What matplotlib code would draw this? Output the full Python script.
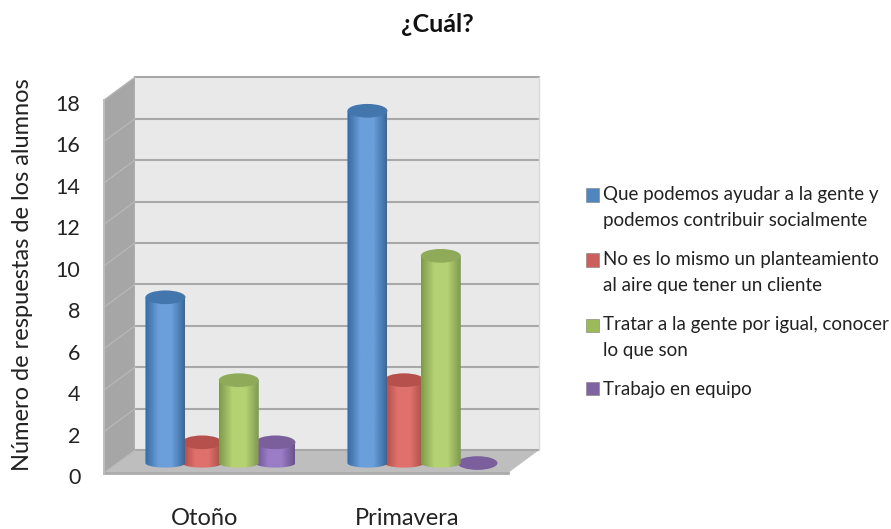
"""3D-look cylinder bar chart of student answers."""
import matplotlib

matplotlib.use("Agg")
import matplotlib.pyplot as plt
from matplotlib.colors import LinearSegmentedColormap
from matplotlib.legend_handler import HandlerPatch
from matplotlib.patches import Ellipse, Polygon, Rectangle
from matplotlib.transforms import ScaledTranslation
import numpy as np

plt.rcParams["font.family"] = ["Lato", "DejaVu Sans"]

categories = ["Otoño", "Primavera"]
series_names = [
    "Que podemos ayudar a la gente y\npodemos contribuir socialmente",
    "No es lo mismo un planteamiento\nal aire que tener un cliente",
    "Tratar a la gente por igual, conocer\nlo que son",
    "Trabajo en equipo",
]
series_values = [[8, 17], [1, 4], [4, 10], [1, 0]]
y_ticks = [0, 2, 4, 6, 8, 10, 12, 14, 16, 18]

# dark edge, light centre, cap colour, legend swatch
body_dark = ["#39689E", "#A84C48", "#7F9A4C", "#6A5190"]
body_light = ["#6A9FDB", "#E0706B", "#B5D273", "#9A7DC6"]
cap_colors = ["#4476AE", "#B5504D", "#8FAB5A", "#7A5F9C"]
swatch_colors = ["#4F86C0", "#CC5F5B", "#9BBB59", "#8064A2"]

DEPTH_X = 0.153
DEPTH_Y = 1.1
BAR_WIDTH = 0.198
BAR_STEP = 0.1815
CAP_H = 0.66
BASE = DEPTH_Y / 2 - 0.07
LINE_PITCH_PT = 18.7


def draw_walls(ax):
    dx, dy = DEPTH_X, DEPTH_Y
    left, right, top = -0.5, 1.5, 18
    wall = dict(clip_on=False, linewidth=0)
    ax.add_patch(Polygon([(left + dx, dy), (right + dx, dy), (right + dx, top + dy),
                          (left + dx, top + dy)], fc="#E9E9E9", zorder=1, **wall))
    ax.add_patch(Polygon([(left, 0), (left + dx, dy), (left + dx, top + dy), (left, top)],
                         fc="#A6A6A6", zorder=1, **wall))
    ax.add_patch(Polygon([(left, 0), (right, 0), (right + dx, dy), (left + dx, dy)],
                         fc="#BEBEBE", zorder=1, **wall))
    # gridlines on the back wall and the side wall
    for v in y_ticks:
        ax.plot([left + dx, right + dx], [v + dy, v + dy], color="#A8A8A8", lw=1.5,
                clip_on=False, zorder=2)
        ax.plot([left, left + dx], [v, v + dy], color="#B8B8B8", lw=0.9,
                clip_on=False, zorder=2)
    ax.plot([left, right], [0, 0], color="#ABABAB", lw=2, clip_on=False, zorder=2)
    ax.plot([left, left], [0, top], color="#BDBDBD", lw=1.4, clip_on=False, zorder=2)
    ax.plot([right + dx, right + dx], [dy, top + dy], color="#DADADA", lw=1,
            clip_on=False, zorder=2)


def draw_cylinder(ax, xc, value, dark, light, cap, zorder):
    half = BAR_WIDTH / 2
    if value > 0:
        t = np.linspace(0, np.pi, 40)
        arc_x = xc - half * np.cos(t)
        arc_y = BASE - 0.22 * np.sin(t)
        outline = np.vstack([np.column_stack([arc_x, arc_y]),
                             [(xc + half, BASE + value), (xc - half, BASE + value)]])
        body = Polygon(outline, fc="none", ec="none", clip_on=False, zorder=zorder)
        ax.add_patch(body)
        cmap = LinearSegmentedColormap.from_list("c", [dark, light, light, dark])
        img = ax.imshow(np.linspace(0, 1, 64)[None, :], cmap=cmap, aspect="auto",
                        extent=(xc - half, xc + half, BASE - CAP_H, BASE + value),
                        zorder=zorder, clip_on=True)
        img.set_clip_path(body)
    ax.add_patch(Ellipse((xc, BASE + value), BAR_WIDTH, CAP_H, fc=cap, ec="none",
                         clip_on=False, zorder=zorder + 0.1))


def first_line_swatch(n_lines):
    # keep the swatch beside the first line of a wrapped label
    shift = (n_lines - 1) * LINE_PITCH_PT / 2

    def make(legend, orig_handle, xdescent, ydescent, width, height, fontsize):
        return Rectangle((-xdescent, -ydescent + shift), width, height)

    return HandlerPatch(patch_func=make)


fig = plt.figure(figsize=(8.91, 5.29), dpi=100)
ax = fig.add_axes([104 / 891, 56 / 529, 404 / 891, 373 / 529])

draw_walls(ax)

group_pos = np.arange(len(categories))
group_shift = DEPTH_X / 2
handles = []
for i, values in enumerate(series_values):
    for g, value in zip(group_pos, values):
        xc = g + group_shift + (i - 1.5) * BAR_STEP
        draw_cylinder(ax, xc, value, body_dark[i], body_light[i], cap_colors[i],
                      3 + (i + 1) % 2)
    handles.append(Rectangle((0, 0), 1, 1, fc=swatch_colors[i], ec="#8C8C8C", lw=0.5))

ax.set_xlim(-0.5, 1.5)
ax.set_ylim(0, 18)
ax.set_xticks(group_pos, categories)
ax.set_yticks(y_ticks)
ax.tick_params(axis="x", length=0, pad=25, labelsize=17, labelcolor="#222222")
ax.tick_params(axis="y", length=0, pad=17, labelsize=15.5, labelcolor="#222222")
nudge = ScaledTranslation(0, -3 / 100, fig.dpi_scale_trans)
for label in ax.get_yticklabels():
    label.set_transform(label.get_transform() + nudge)
for spine in ax.spines.values():
    spine.set_visible(False)
ax.patch.set_visible(False)

fig.text(437 / 891, 1 - 24 / 529, "¿Cuál?", ha="center", va="center", fontsize=18,
         fontweight="bold", color="#111111")
fig.text(23 / 891, 1 - 275 / 529, "Número de respuestas de los alumnos", rotation=90,
         ha="center", va="center", fontsize=17, color="#222222")

handler_map = {h: first_line_swatch(name.count("\n") + 1)
               for h, name in zip(handles, series_names)}
legend = fig.legend(handles, series_names, loc="upper left", handler_map=handler_map,
                    bbox_to_anchor=(586 / 891, 1 - 186 / 529), frameon=False, fontsize=13.5,
                    labelcolor="#222222", handlelength=0.7, handleheight=0.7,
                    handletextpad=0.2, labelspacing=1.17, borderpad=0, borderaxespad=0,
                    alignment="left")
for text in legend.get_texts():
    text.set_linespacing(1.65)

fig.savefig("out.png", dpi=100)
plt.close(fig)
